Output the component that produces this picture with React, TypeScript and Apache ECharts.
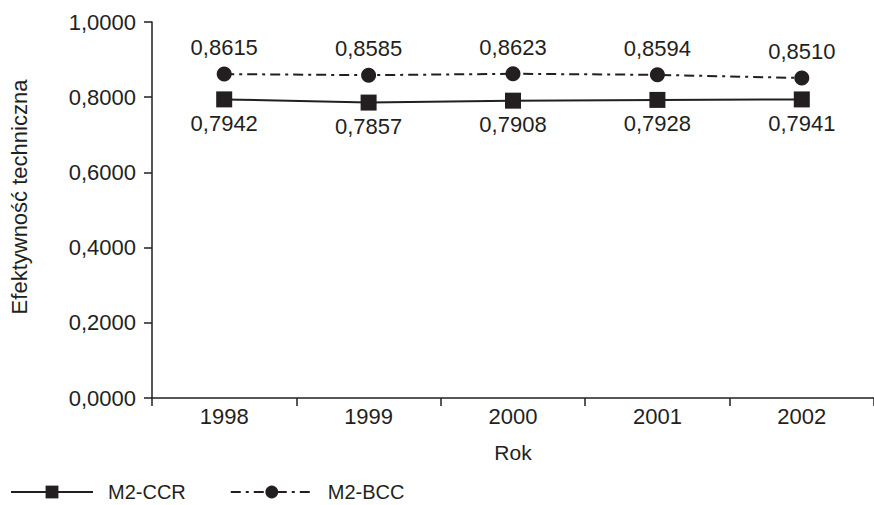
import React, { useEffect, useRef } from "react";
import * as echarts from "echarts";

const years = ["1998", "1999", "2000", "2001", "2002"];
const ccr = [0.7942, 0.7857, 0.7908, 0.7928, 0.7941];
const bcc = [0.8615, 0.8585, 0.8623, 0.8594, 0.851];
const seriesNames = ["M2-CCR", "M2-BCC"];

const fmt = (v: number) => v.toFixed(4).replace(".", ",");
const INK = "#231f20";
const FONT = "Liberation Sans";
const FS = 22;

export default function App() {
  const ref = useRef<HTMLDivElement>(null);
  useEffect(() => {
    document.body.style.margin = "0";
    if (!ref.current) return;
    const chart = echarts.init(ref.current, undefined, { renderer: "svg" });
    chart.setOption({
      animation: false,
      textStyle: { fontFamily: FONT, color: INK },
      grid: { left: 142, right: -6, top: 22, bottom: 107, containLabel: false },
      legend: {
        left: 10,
        top: 482,
        padding: 0,
        itemWidth: 82,
        itemHeight: 16,
        itemGap: 44,
        textStyle: { fontFamily: FONT, fontSize: 20, lineHeight: 20, color: INK, padding: [0, 0, 0, 10] },
        data: seriesNames,
      },
      xAxis: {
        type: "category",
        data: years,
        boundaryGap: true,
        name: "Rok",
        nameLocation: "middle",
        nameGap: 44,
        nameTextStyle: { fontFamily: FONT, fontSize: 21, color: INK },
        axisLine: { lineStyle: { color: INK, width: 1.5 } },
        axisTick: { show: true, inside: false, length: 8, lineStyle: { color: INK, width: 1.5 } },
        axisLabel: { fontFamily: FONT, fontSize: FS, color: INK, margin: 7 },
      },
      yAxis: {
        type: "value",
        min: 0,
        max: 1,
        interval: 0.2,
        name: "Efektywność techniczna",
        nameLocation: "middle",
        nameGap: 122,
        nameRotate: 90,
        nameTextStyle: { fontFamily: FONT, fontSize: FS, color: INK, padding: [0, 0, 0, 26] },
        axisLine: { show: true, lineStyle: { color: INK, width: 1.5 } },
        axisTick: { show: true, inside: false, length: 8, lineStyle: { color: INK, width: 1.5 } },
        axisLabel: { fontFamily: FONT, fontSize: FS, color: INK, margin: 16, formatter: (v: number) => fmt(v) },
        splitLine: { show: false },
      },
      series: [
        {
          name: seriesNames[0],
          type: "line",
          data: ccr,
          symbol: "rect",
          symbolSize: 16,
          itemStyle: { color: INK },
          lineStyle: { color: INK, width: 2, type: "solid" },
          label: {
            show: true,
            position: "bottom",
            distance: 5,
            fontFamily: FONT,
            fontSize: FS,
            color: INK,
            formatter: (p: any) => fmt(p.value),
          },
        },
        {
          name: seriesNames[1],
          type: "line",
          data: bcc,
          symbol: "circle",
          symbolSize: 15,
          itemStyle: { color: INK },
          lineStyle: { color: INK, width: 2, type: [10, 5, 3, 5] },
          label: {
            show: true,
            position: "top",
            distance: 8,
            fontFamily: FONT,
            fontSize: FS,
            color: INK,
            formatter: (p: any) => fmt(p.value),
          },
        },
      ],
    });
    return () => chart.dispose();
  }, []);
  return <div ref={ref} style={{ width: 874, height: 505, position: "absolute", left: 0, top: 0 }} />;
}
